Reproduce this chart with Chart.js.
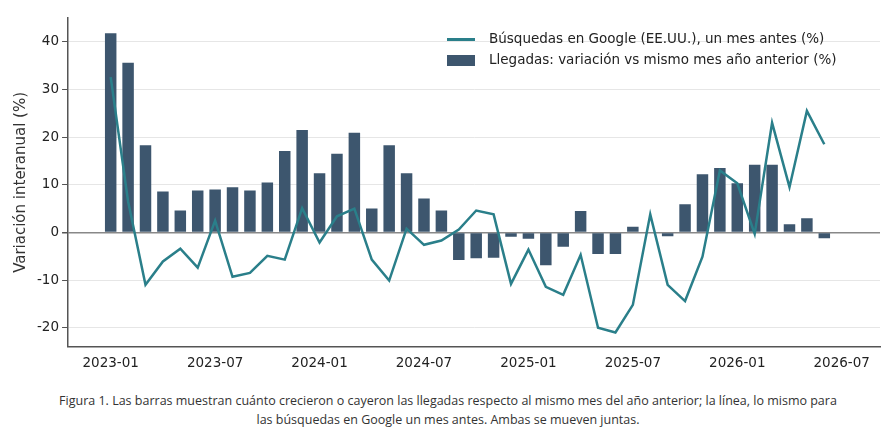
<!DOCTYPE html>
<html><head><meta charset="utf-8">
<script src="https://cdn.jsdelivr.net/npm/chart.js@4"></script>
<style>
body{margin:0;background:#fff;font-family:"DejaVu Sans",sans-serif;}
#wrap{position:relative;width:896px;height:375px;}
#legend{position:absolute;left:447px;top:28px;font-size:13.5px;color:#222;line-height:21px;}
#legend span.l{display:inline-block;width:28px;height:3px;background:#2a7f8a;vertical-align:middle;margin-right:14px;}
#legend span.b{display:inline-block;width:28px;height:11px;background:#3d566e;vertical-align:middle;margin-right:14px;}
#cap{font-family:"Open Sans",sans-serif;font-size:12.5px;color:#333;text-align:center;line-height:19px;margin-top:16px;}
</style></head><body>
<div id="wrap"><canvas id="c" width="896" height="375"></canvas>
<div id="legend"><div><span class="l"></span>Búsquedas en Google (EE.UU.), un mes antes (%)</div><div><span class="b"></span>Llegadas: variación vs mismo mes año anterior (%)</div></div></div>
<div id="cap">Figura 1. Las barras muestran cuánto crecieron o cayeron las llegadas respecto al mismo mes del año anterior; la línea, lo mismo para<br>las búsquedas en Google un mes antes. Ambas se mueven juntas.</div>
<script>
const months = [];
for (let y = 2023; y <= 2026; y++) for (let m = 1; m <= 12; m++) if (months.length < 42) months.push(y + "-" + String(m).padStart(2, "0"));
const llegadas = [41.8,35.6,18.3,8.6,4.6,8.8,9.0,9.5,8.8,10.5,17.1,21.5,
  12.4,16.5,20.9,5.0,18.3,12.4,7.1,4.6,-5.8,-5.4,-5.3,-0.9,
  -1.3,-6.9,-3.0,4.5,-4.5,-4.5,1.2,0,-0.8,5.9,12.2,13.5,
  10.3,14.2,14.2,1.7,3.0,-1.2];
const busquedas = [32.6,6.5,-11,-6.1,-3.4,-7.4,2.5,-9.3,-8.5,-4.9,-5.7,5.1,
  -2.1,3.4,5.0,-5.7,-10.1,0.8,-2.6,-1.7,0.6,4.6,3.8,-10.8,
  -3.6,-11.4,-13.1,-4.7,-20,-21,-15.2,3.8,-11,-14.4,-5.1,13,
  10.3,-0.3,23,9.5,25.5,18.5];
const tickLabels = ["2023-01","2023-07","2024-01","2024-07","2025-01","2025-07","2026-01","2026-07"];

new Chart(document.getElementById("c"), {
  data: {
    datasets: [
      {type:"line", data: busquedas.map((v,i)=>({x:i,y:v})), borderColor:"#2a7f8a", borderWidth:2.5, pointRadius:0, tension:0, order:0},
      {type:"bar", data: llegadas.map((v,i)=>({x:i,y:v})), backgroundColor:"#3d566e", barPercentage:0.66, categoryPercentage:1, order:1}
    ]
  },
  options: {
    responsive:false, animation:false,
    layout:{padding:{left:8,right:16,top:18,bottom:0}},
    plugins:{legend:{display:false}, tooltip:{enabled:false}},
    scales:{
      x:{type:"linear", min:-2.45, max:44.2, offset:false,
        afterBuildTicks: ax => { ax.ticks = tickLabels.map((t,i)=>({value:i*6})); },
        ticks:{callback:(v)=>tickLabels[v/6], color:"#222", font:{size:13.5,family:"DejaVu Sans"}, maxRotation:0, autoSkip:false},
        grid:{display:false, drawTicks:true, tickLength:6, tickColor:"#555"}, border:{color:"#555", width:1.5}},
      y:{min:-24, max:45,
        afterBuildTicks: ax => { ax.ticks = [-20,-10,0,10,20,30,40].map(v=>({value:v})); },
        ticks:{color:"#222", font:{size:13.5,family:"DejaVu Sans"}},
        grid:{color:(c)=>c.tick.value===0?"#888":"#e6e6e6", lineWidth:(c)=>c.tick.value===0?1.5:1, tickLength:6, tickColor:"#555"},
        border:{color:"#555", width:1.5},
        title:{display:true, text:"Variación interanual (%)", color:"#333", font:{size:15,family:"DejaVu Sans"}}}
    }
  }
});
</script></body></html>
